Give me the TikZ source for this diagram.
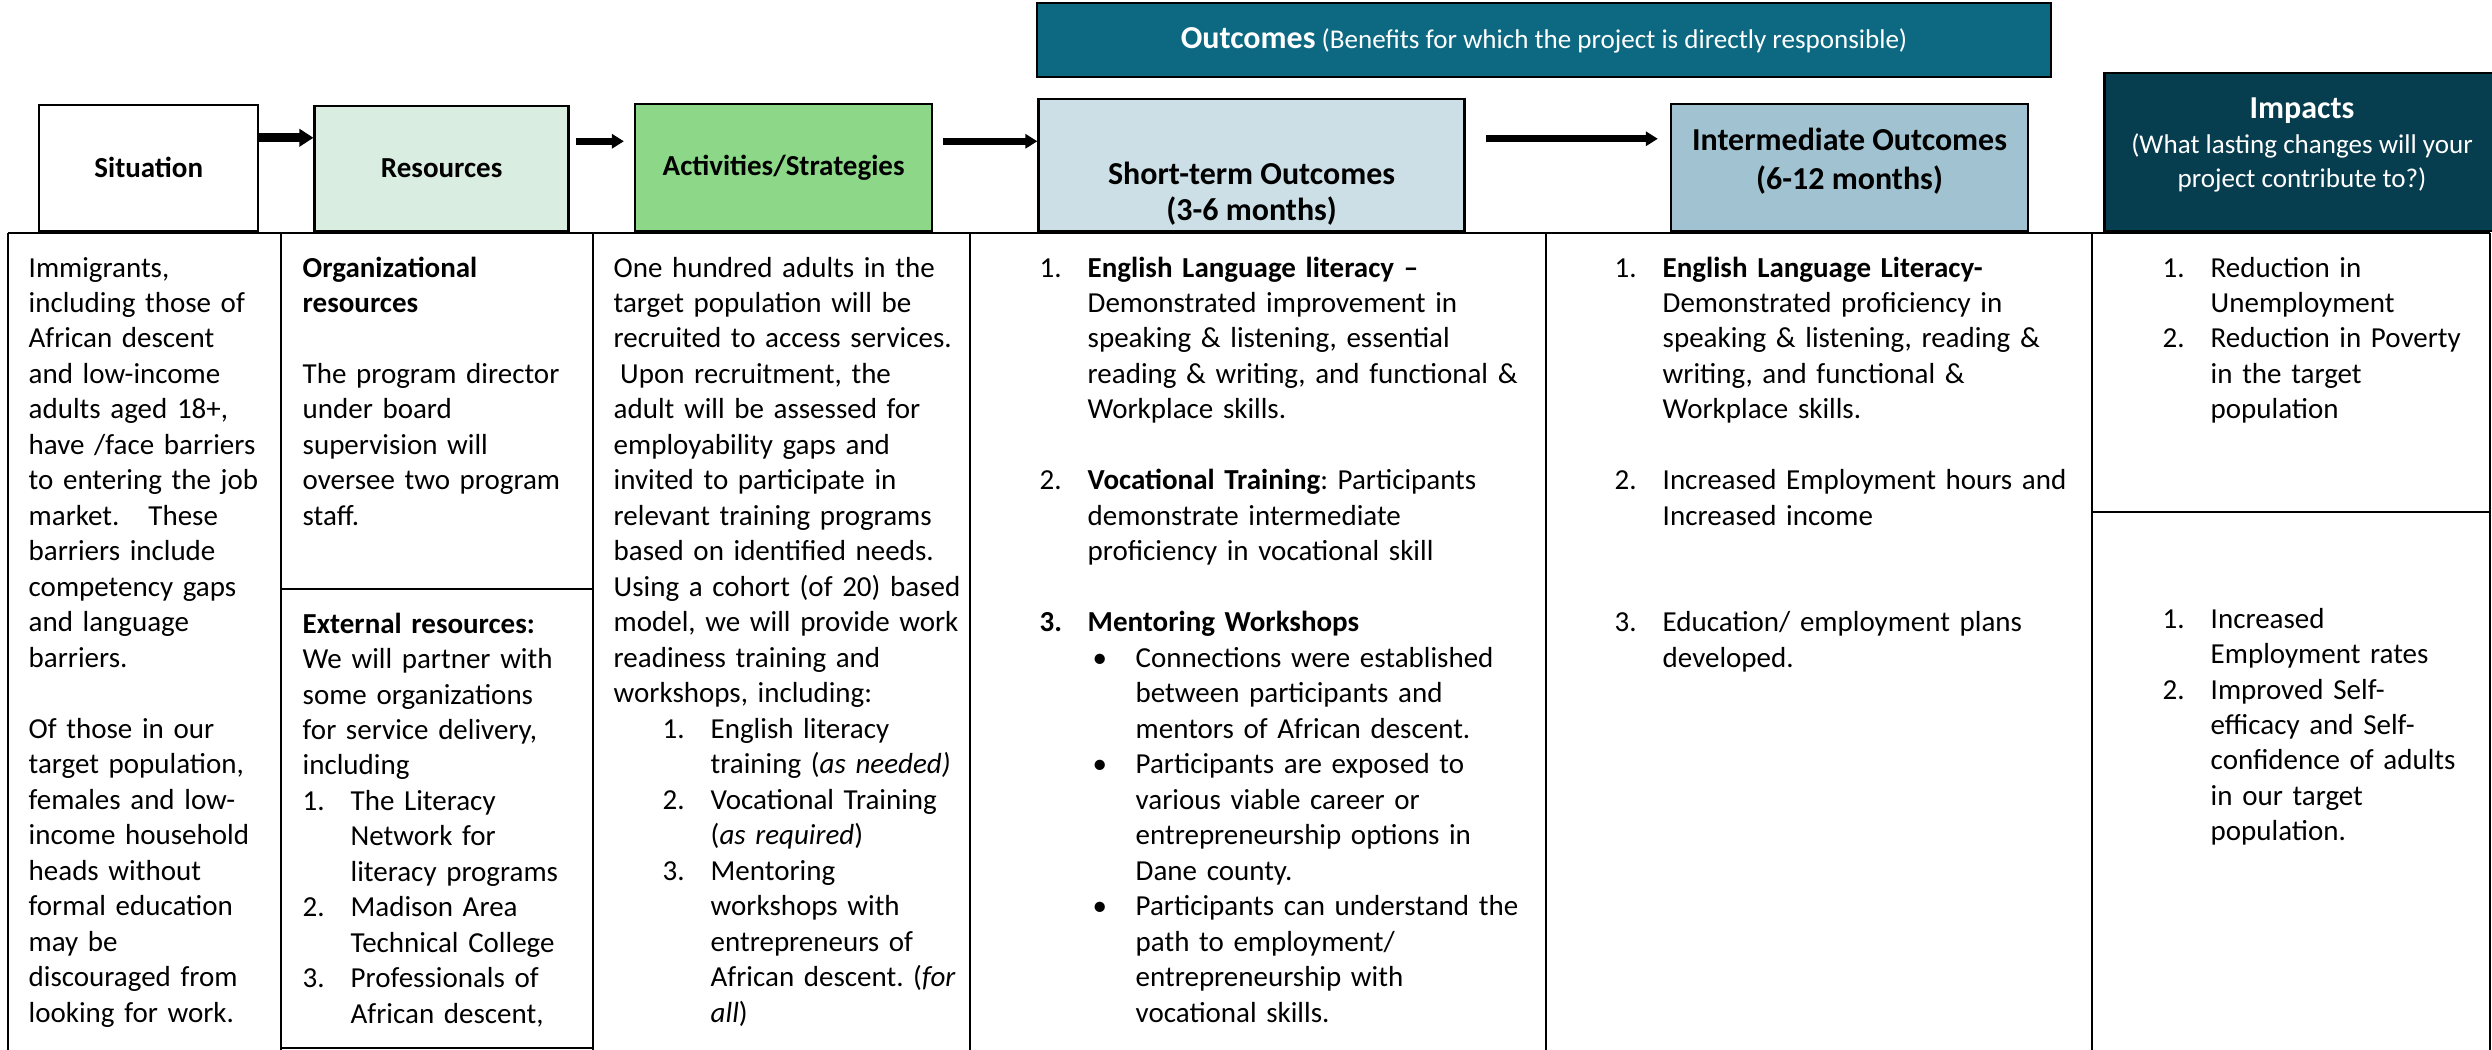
\documentclass[tikz,border=0pt]{standalone}
\usepackage{fontspec}
\setmainfont{Carlito}
\usetikzlibrary{positioning,arrows.meta}
\frenchspacing

\definecolor{resgreen}{HTML}{D9EDE1}
\definecolor{actgreen}{HTML}{8DD788}
\definecolor{shortblue}{HTML}{CCDFE6}
\definecolor{midblue}{HTML}{A1C3D1}
\definecolor{impteal}{HTML}{073E4F}
\definecolor{outteal}{HTML}{0D6981}

\newcommand{\nr}[1]{\makebox[4.8mm][l]{#1}}
\newcommand{\ctd}{\hspace*{4.8mm}}
\newcommand{\bl}{\hspace*{5.3mm}\makebox[4.3mm][l]{\textbullet}}
\newcommand{\bctd}{\hspace*{9.6mm}}

\begin{document}
\begin{tikzpicture}[x=0.1mm, y=-0.1mm,
    hdrbox/.style={draw, line width=0.7pt, inner sep=0pt, align=center,
        font=\fontsize{8.25}{10}\selectfont\bfseries},
    hdrtxt/.style={inner sep=0pt, align=center},
    body/.style={anchor=base west, inner sep=0pt, text width=60mm, align=left,
        font=\fontsize{8.25}{10.1}\selectfont},
    grid/.style={line width=0.45pt},
    bigarrow/.style={line width=0.7mm, -{Triangle[length=1.2mm, width=1.4mm]}}]
    \useasboundingbox (0,0) rectangle (2492,1050);

    % header row
    \node[hdrbox, fill=white, minimum width=21.9mm, minimum height=12.6mm, anchor=south west] (situation) at (38,232) {Situation};
    \node[hdrbox, fill=resgreen, minimum width=25.4mm, minimum height=12.5mm, right=5.4mm of situation.south east, anchor=south west] (resources) {Resources};
    \node[hdrbox, fill=actgreen, minimum width=29.7mm, minimum height=12.7mm, right=6.4mm of resources.south east, anchor=south west] (activities) {Activities/Strategies};
    \node[hdrbox, fill=shortblue, minimum width=42.6mm, minimum height=13.2mm, right=10.4mm of activities.south east, anchor=south west] (shortterm) {};
    \node[hdrbox, fill=midblue, minimum width=35.7mm, minimum height=12.7mm, right=20.4mm of shortterm.south east, anchor=south west] (intermediate) {};
    \node[hdrbox, fill=impteal, minimum width=39.5mm, minimum height=15.8mm, right=7.4mm of intermediate.south east, anchor=south west] (impacts) {};
    \node[hdrbox, fill=outteal, text=white, minimum width=101.4mm, minimum height=7.4mm, font=\fontsize{7.7}{10}\selectfont] (outcomes) at (1544,40)
        {{\fontsize{9.1}{10}\selectfont\bfseries Outcomes} (Benefits for which the project is directly responsible)};

    \node[hdrtxt, font=\fontsize{9.1}{10.2}\selectfont\bfseries] (shortlbl) at ([yshift=-2.9mm]shortterm.center) {Short-term Outcomes\\(3-6 months)};
    \node[hdrtxt, font=\fontsize{9.1}{11}\selectfont\bfseries] (midlbl) at ([yshift=0.6mm]intermediate.center) {Intermediate Outcomes\\(6-12 months)};
    \node[hdrtxt, text=white, font=\fontsize{7.7}{9.8}\selectfont] (implbl) at ([yshift=0.65mm]impacts.center)
        {{\fontsize{9.1}{10}\selectfont\bfseries Impacts}\\(What lasting changes will your\\project contribute to?)};

    % arrows
    \draw[bigarrow, line width=0.9mm, -{Triangle[length=1.4mm, width=1.7mm]}] ([yshift=3mm]situation.east) -- ([yshift=3mm]situation.east -| resources.west);
    \draw[bigarrow, shorten <=0.6mm, shorten >=1mm] ([yshift=2.7mm]resources.east) -- ([yshift=2.7mm]resources.east -| activities.west);
    \draw[bigarrow, shorten <=1mm] ([yshift=2.6mm]activities.east) -- ([yshift=2.6mm]activities.east -| shortterm.west);
    \draw[bigarrow, shorten <=2mm, shorten >=1.2mm] ([yshift=2.6mm]shortterm.east) -- ([yshift=2.6mm]shortterm.east -| intermediate.west);

    % table
    \draw[grid] (8,233) -- (2490,233);
    \foreach \cx in {8,281,593,970,1546,2092,2490}
        \draw[grid] (\cx,233) -- (\cx,1050);
    \draw[grid] (281,589) -- (593,589);
    \draw[grid] (281,1048) -- (593,1048);
    \draw[grid] (2092,512) -- (2490,512);

    % column texts
    \node[body] (sitText) at (28,277) {Immigrants,\\ including those of\\ African descent\\ and low-income\\ adults aged 18+,\\ have /face barriers\\ to entering the job\\ market.\ \ \ These\\ barriers include\\ competency gaps\\ and language\\ barriers.\\[\baselineskip] Of those in our\\ target population,\\ females and low-\\ income household\\ heads without\\ formal education\\ may be\\ discouraged from\\ looking for work.};

    \node[body] (orgText) at (302,277) {\textbf{Organizational}\\ \textbf{resources}\\[\baselineskip] The program director\\ under board\\ supervision will\\ oversee two program\\ staff.};

    \node[body] (extText) at (302,633) {\textbf{External resources:}\\ We will partner with\\ some organizations\\ for service delivery,\\ including\\ \nr{1.}The Literacy\\ \ctd Network for\\ \ctd literacy programs\\ \nr{2.}Madison Area\\ \ctd Technical College\\ \nr{3.}Professionals of\\ \ctd African descent,};

    \node[body] (actText) at (613,277) {One hundred adults in the\\ target population will be\\ recruited to access services.\\ \hspace*{0.65mm}Upon recruitment, the\\ adult will be assessed for\\ employability gaps and\\ invited to participate in\\ relevant training programs\\ based on identified needs.\\ Using a cohort (of 20) based\\ model, we will provide work\\ readiness training and\\ workshops, including:\\ \hspace*{4.9mm}\nr{1.}English literacy\\ \hspace*{4.9mm}\ctd training (\textit{as needed)}\\ \hspace*{4.9mm}\nr{2.}Vocational Training\\ \hspace*{4.9mm}\ctd (\textit{as required})\\ \hspace*{4.9mm}\nr{3.}Mentoring\\ \hspace*{4.9mm}\ctd workshops with\\ \hspace*{4.9mm}\ctd entrepreneurs of\\ \hspace*{4.9mm}\ctd African descent. (\textit{for}\\ \hspace*{4.9mm}\ctd \textit{all})};

    \node[body] (shortText) at (1039,277) {\nr{1.}\textbf{English Language literacy –}\\ \ctd Demonstrated improvement in\\ \ctd speaking \& listening, essential\\ \ctd reading \& writing, and functional \&\\ \ctd Workplace skills.\\[\baselineskip] \nr{2.}\textbf{Vocational Training}: Participants\\ \ctd demonstrate intermediate\\ \ctd proficiency in vocational skill\\[\baselineskip] \nr{\textbf{3.}}\textbf{Mentoring Workshops}\\ \bl Connections were established\\ \bctd between participants and\\ \bctd mentors of African descent.\\ \bl Participants are exposed to\\ \bctd various viable career or\\ \bctd entrepreneurship options in\\ \bctd Dane county.\\ \bl Participants can understand the\\ \bctd path to employment/\\ \bctd entrepreneurship with\\ \bctd vocational skills.};

    \node[body] (midText) at (1614,277) {\nr{1.}\textbf{English Language Literacy-}\\ \ctd Demonstrated proficiency in\\ \ctd speaking \& listening, reading \&\\ \ctd writing, and functional \&\\ \ctd Workplace skills.\\[\baselineskip] \nr{2.}Increased Employment hours and\\ \ctd Increased income\\[2\baselineskip] \nr{3.}Education/ employment plans\\ \ctd developed.};

    \node[body] (impText) at (2162,277) {\nr{1.}Reduction in\\ \ctd Unemployment\\ \nr{2.}Reduction in Poverty\\ \ctd in the target\\ \ctd population};

    \node[body] (impLow) at (2162,628) {\nr{1.}Increased\\ \ctd Employment rates\\ \nr{2.}Improved Self-\\ \ctd efficacy and Self-\\ \ctd confidence of adults\\ \ctd in our target\\ \ctd population.};
\end{tikzpicture}
\end{document}
